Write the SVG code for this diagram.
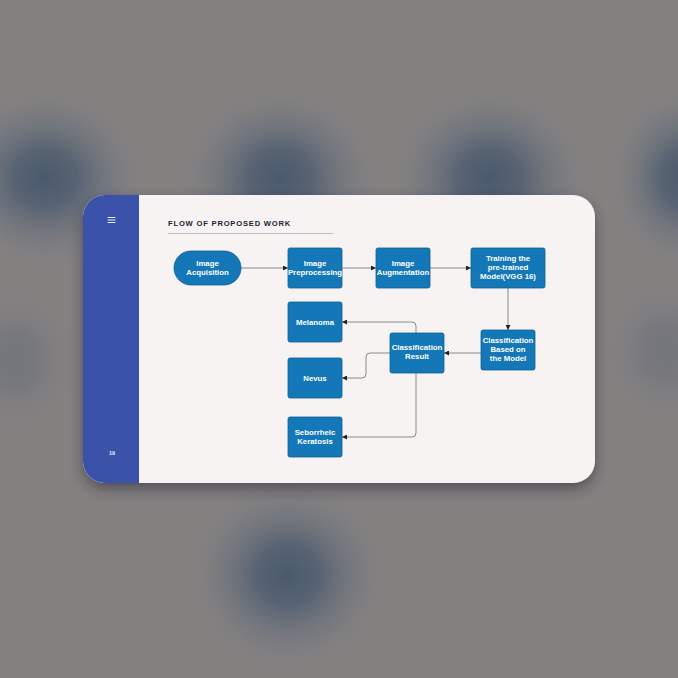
<svg xmlns="http://www.w3.org/2000/svg" width="678" height="678" viewBox="0 0 678 678">
<defs>
<radialGradient id="blob">
<stop offset="0" stop-color="#4a5a6d" stop-opacity="1"/>
<stop offset="0.3" stop-color="#505e70" stop-opacity="0.85"/>
<stop offset="0.65" stop-color="#66707c" stop-opacity="0.4"/>
<stop offset="1" stop-color="#858181" stop-opacity="0"/>
</radialGradient>
<filter id="shadow" x="-10%" y="-10%" width="120%" height="130%">
<feDropShadow dx="0" dy="6" stdDeviation="7" flood-color="#2a2a35" flood-opacity="0.55"/>
</filter>
<marker id="arr" viewBox="0 0 6 6" refX="6" refY="3" markerWidth="5" markerHeight="5" orient="auto" markerUnits="userSpaceOnUse">
<path d="M0,0 L6,3 L0,6 Z" fill="#222"/>
</marker>
<clipPath id="cardclip"><rect x="83" y="195" width="512" height="288" rx="22"/></clipPath>
</defs>
<style>
.node{fill:#1478b8;stroke:#0e5f93;stroke-width:0.8}
.lbl{font-family:"Liberation Sans",Arial,sans-serif;font-weight:bold;font-size:7.8px;fill:#ffffff;text-anchor:middle}
.con{fill:none;stroke:#6e6e6e;stroke-width:0.8;marker-end:url(#arr)}
</style>
<rect x="0" y="0" width="678" height="678" fill="#858181"/>
<g id="background">
<ellipse cx="45" cy="178" rx="105" ry="95" fill="url(#blob)"/>
<ellipse cx="280" cy="178" rx="105" ry="95" fill="url(#blob)"/>
<ellipse cx="490" cy="178" rx="105" ry="95" fill="url(#blob)"/>
<ellipse cx="685" cy="178" rx="80" ry="95" fill="url(#blob)"/>
<ellipse cx="288" cy="575" rx="105" ry="100" fill="url(#blob)"/>
<ellipse cx="15" cy="360" rx="70" ry="80" fill="url(#blob)" opacity="0.3"/>
<ellipse cx="665" cy="350" rx="70" ry="80" fill="url(#blob)" opacity="0.3"/>
</g>
<g id="card">
<rect x="83" y="195" width="512" height="288" rx="22" fill="#f7f3f3" filter="url(#shadow)"/>
<g clip-path="url(#cardclip)">
<rect x="83" y="195" width="56" height="288" rx="0" fill="#3b52aa"/>
</g>
<g id="menu-icon" stroke="#e8ecf6" stroke-width="1" stroke-linecap="round">
<line x1="108" y1="217.5" x2="115" y2="217.5"/>
<line x1="108" y1="220" x2="115" y2="220"/>
<line x1="108" y1="222.5" x2="115" y2="222.5"/>
</g>
<text x="112" y="455" font-family="Liberation Sans, Arial, sans-serif" font-weight="bold" font-size="5.5" fill="#e8ecf6" text-anchor="middle">19</text>
<text x="168" y="226" font-family="Liberation Sans, Arial, sans-serif" font-weight="bold" font-size="7.6" letter-spacing="0.8" fill="#1f2333">FLOW OF PROPOSED WORK</text>
<line x1="168" y1="233.5" x2="333" y2="233.5" stroke="#b3b0b8" stroke-width="0.8"/>
</g>
<g id="connectors">
<path class="con" d="M241,268 L288,268"/>
<path class="con" d="M342,268 L376,268"/>
<path class="con" d="M430,268 L471,268"/>
<path class="con" d="M508,288 L508,330"/>
<path class="con" d="M481,353 L444,353"/>
<path class="con" d="M416,333 L416,326 Q416,322 412,322 L342,322"/>
<path class="con" d="M390,353 L370,353 Q366,353 366,357 L366,374 Q366,378 362,378 L342,378"/>
<path class="con" d="M416,373 L416,433 Q416,437 412,437 L342,437"/>
</g>
<g id="n-acquisition">
<rect class="node" x="174" y="251" width="67" height="34" rx="17"/>
<text class="lbl" x="207.5" y="265.5">Image</text>
<text class="lbl" x="207.5" y="274.5">Acquisition</text>
</g>
<g id="n-preprocessing">
<rect class="node" x="288" y="248" width="54" height="40" rx="2"/>
<text class="lbl" x="315" y="265.5">Image</text>
<text class="lbl" x="315" y="274.5">Preprocessing</text>
</g>
<g id="n-augmentation">
<rect class="node" x="376" y="248" width="54" height="40" rx="2"/>
<text class="lbl" x="403" y="265.5">Image</text>
<text class="lbl" x="403" y="274.5">Augmentation</text>
</g>
<g id="n-training">
<rect class="node" x="471" y="248" width="74" height="40" rx="2"/>
<text class="lbl" x="508" y="260.5">Training the</text>
<text class="lbl" x="508" y="269.5">pre-trained</text>
<text class="lbl" x="508" y="278.5">Model(VGG 16)</text>
</g>
<g id="n-classification-model">
<rect class="node" x="481" y="330" width="54" height="40" rx="2"/>
<text class="lbl" x="508" y="342.5">Classification</text>
<text class="lbl" x="508" y="351.5">Based on</text>
<text class="lbl" x="508" y="360.5">the Model</text>
</g>
<g id="n-classification-result">
<rect class="node" x="390" y="333" width="54" height="40" rx="2"/>
<text class="lbl" x="417" y="350">Classification</text>
<text class="lbl" x="417" y="359">Result</text>
</g>
<g id="n-melanoma">
<rect class="node" x="288" y="302" width="54" height="40" rx="2"/>
<text class="lbl" x="315" y="324.5">Melanoma</text>
</g>
<g id="n-nevus">
<rect class="node" x="288" y="358" width="54" height="40" rx="2"/>
<text class="lbl" x="315" y="380.5">Nevus</text>
</g>
<g id="n-seborrheic">
<rect class="node" x="288" y="417" width="54" height="40" rx="2"/>
<text class="lbl" x="315" y="435">Seborrheic</text>
<text class="lbl" x="315" y="444">Keratosis</text>
</g>
</svg>
